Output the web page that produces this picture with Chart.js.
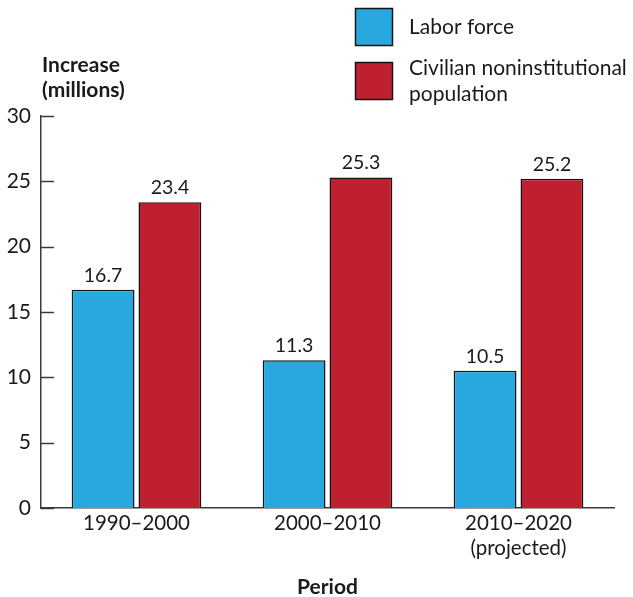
<!DOCTYPE html>
<html>
<head>
<meta charset="utf-8">
<script src="https://cdn.jsdelivr.net/npm/chart.js@4.4.1/dist/chart.umd.min.js"></script>
<style>
  html, body { margin: 0; padding: 0; background: #fff; }
  #wrap { width: 633px; height: 597px; position: relative; }
</style>
</head>
<body>
<div id="wrap"><canvas id="c" width="633" height="597"></canvas></div>
<script>
// Increase over each decade, in millions
const periods = [["1990\u20132000"], ["2000\u20132010"], ["2010\u20132020", "(projected)"]];
const laborForce = [16.7, 11.3, 10.5];
const civilianPopulation = [23.4, 25.3, 25.2];
const yTicks = [0, 5, 10, 15, 20, 25, 30];
const seriesNames = ["Labor force", "Civilian noninstitutional population"];

const FONT = "Lato, 'Open Sans', sans-serif";
const BLUE = "#29a8e0";
const RED = "#be202f";
const INK = "#1a1a1a";
const AXIS = "#3a3a3a";
const EDGE = "#141414";

// Short ticks pointing into the plot from the y axis
const innerTicks = {
  id: "innerTicks",
  afterDraw(chart) {
    const { ctx, scales: { y } } = chart;
    ctx.save();
    ctx.strokeStyle = AXIS;
    ctx.lineWidth = 1.5;
    yTicks.forEach(v => {
      const py = Math.round(y.getPixelForValue(v)) + 0.5;
      ctx.beginPath();
      ctx.moveTo(y.right, py);
      ctx.lineTo(y.right + 13, py);
      ctx.stroke();
    });
    ctx.restore();
  }
};

// Numbers printed above each bar
const valueLabels = {
  id: "valueLabels",
  afterDatasetsDraw(chart) {
    const { ctx } = chart;
    ctx.save();
    ctx.fillStyle = INK;
    ctx.font = "19.5px " + FONT;
    ctx.textAlign = "center";
    ctx.textBaseline = "alphabetic";
    chart.data.datasets.forEach((ds, i) => {
      chart.getDatasetMeta(i).data.forEach((bar, j) => {
        ctx.fillText(ds.data[j].toFixed(1), bar.x, bar.y - 8);
      });
    });
    ctx.restore();
  }
};

// Axis titles and the legend boxes at the top
const decorations = {
  id: "decorations",
  afterDraw(chart) {
    const { ctx, chartArea } = chart;
    ctx.save();
    ctx.fillStyle = INK;
    ctx.textBaseline = "middle";
    ctx.font = "bold 21px " + FONT;
    ctx.textAlign = "left";
    ctx.fillText("Increase", 42, 65);
    ctx.fillText("(millions)", 42, 90);
    ctx.textAlign = "center";
    ctx.fillText("Period", (chartArea.left + chartArea.right) / 2, 587);

    const boxes = [
      { color: BLUE, top: 8, lines: [seriesNames[0]], ty: 27 },
      { color: RED, top: 62, lines: ["Civilian noninstitutional", "population"], ty: 68 }
    ];
    boxes.forEach(b => {
      ctx.fillStyle = b.color;
      ctx.fillRect(355, b.top, 38, 38);
      ctx.strokeStyle = EDGE;
      ctx.lineWidth = 1.5;
      ctx.strokeRect(355.5, b.top + 0.5, 37, 37);
      ctx.fillStyle = INK;
      ctx.font = "21px " + FONT;
      ctx.textAlign = "left";
      b.lines.forEach((t, k) => ctx.fillText(t, 409, b.ty + k * 26));
    });
    ctx.restore();
  }
};

new Chart(document.getElementById("c"), {
  type: "bar",
  data: {
    labels: periods,
    datasets: [
      { label: seriesNames[0], data: laborForce, backgroundColor: BLUE, borderColor: EDGE, borderWidth: 1.5,
        categoryPercentage: 0.70, barPercentage: 0.94 },
      { label: seriesNames[1], data: civilianPopulation, backgroundColor: RED, borderColor: EDGE, borderWidth: 1.5,
        categoryPercentage: 0.70, barPercentage: 0.94 }
    ]
  },
  options: {
    responsive: false,
    animation: false,
    layout: { padding: { top: 116, right: 19, left: 0, bottom: 0 } },
    plugins: { legend: { display: false }, tooltip: { enabled: false } },
    scales: {
      x: {
        grid: { display: false, drawTicks: false },
        border: { display: true, color: AXIS, width: 1.5 },
        ticks: { color: INK, font: { family: FONT, size: 20.5 }, padding: 3, maxRotation: 0 },
        afterFit(s) { s.height = 89; }
      },
      y: {
        min: 0, max: 30,
        afterBuildTicks(s) { s.ticks = yTicks.map(v => ({ value: v })); },
        grid: { display: false, drawTicks: false },
        border: { display: true, color: AXIS, width: 1.5 },
        ticks: { color: INK, font: { family: FONT, size: 21 }, padding: 10 },
        afterFit(s) { s.width = 41; }
      }
    }
  },
  plugins: [innerTicks, valueLabels, decorations]
});
</script>
</body>
</html>
